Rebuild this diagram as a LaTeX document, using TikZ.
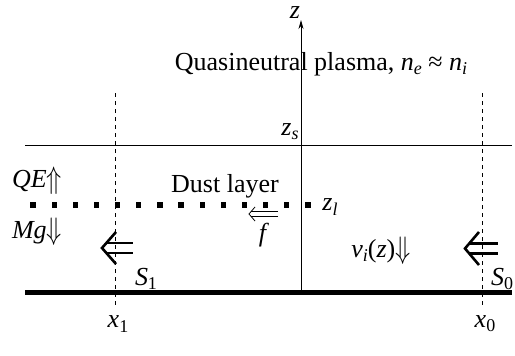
\documentclass[tikz,border=0pt]{standalone}
\usepackage{fontspec}
\setmainfont{Liberation Serif}
\usetikzlibrary{arrows.meta}
\newcommand{\sbs}[1]{\raisebox{-0.35ex}{\fontsize{18}{19}\selectfont #1}}
\newcommand{\tallup}{\raisebox{-0.12ex}{\scalebox{1}[1.25]{$\Uparrow$}}}
\newcommand{\talldown}{\raisebox{-0.12ex}{\scalebox{1}[1.25]{$\Downarrow$}}}
\begin{document}
\begin{tikzpicture}[x=1pt,y=-1pt,
  lbl/.style={font=\fontsize{26}{28}\selectfont, inner sep=0pt},
  bigarrow/.style={line width=2.6pt, line cap=butt, line join=miter},
  smallarrow/.style={line width=0.8pt, line cap=butt, line join=miter},
  guide/.style={dashed, dash pattern=on 4pt off 4pt, line width=0.6pt}]
\useasboundingbox (0,0) rectangle (515,356);
% ground
\coordinate (gl) at (25,292);
\coordinate (gr) at (512,292);
\draw[line width=5pt] (gl) -- (gr);
% sheath edge
\coordinate (sl) at (25,145);
\coordinate (sr) at (512,145);
\draw[line width=0.8pt] (sl) -- (sr);
% axis
\coordinate (ab) at (301,292);
\coordinate (at) at (301,20);
\draw[line width=0.8pt, -{Stealth[length=9pt,width=5pt]}] (ab) -- (at);
\node[lbl] (zlab) at (295,13) {\textit{z}};
\node[lbl] (zs) at (290,132) {\textit{z}\sbs{\textit{s}}};
% plasma text
\node[lbl, fill=white, inner xsep=1pt] (plasma) at (321,64) {Quasineutral plasma, \textit{n}\sbs{\textit{e}} ≈ \textit{n}\sbs{\textit{i}}};
\draw[line width=0.8pt] (301,48) -- (301,82);
% guides
\coordinate (g1t) at (115,93);
\coordinate (g1b) at (115,306);
\coordinate (g0t) at (482,93);
\coordinate (g0b) at (482,306);
\draw[guide] (g1t) -- (g1b);
\draw[guide] (g0t) -- (g0b);
\node[lbl] (x1) at (118,324) {\textit{x}\sbs{1}};
\node[lbl] (x0) at (485,324) {\textit{x}\sbs{0}};
% dust layer
\foreach \i in {0,...,13} {
  \fill (33+21.15*\i-2.6,205-2.6) rectangle ++(5.2,5.2);
}
\node[lbl] (zl) at (330,207) {\textit{z}\sbs{\textit{l}}};
\node[lbl] (dust) at (225,186) {Dust layer};
% small force arrow
\coordinate (ft) at (249,214);
\draw[smallarrow] (278,211.5) -- (251,211.5);
\draw[smallarrow] (278,216.5) -- (251,216.5);
\draw[smallarrow] (255,207) -- (ft) -- (255,221);
\node[lbl] (f) at (264,235) {\textit{f}};
% forces
\node[lbl] (qe) at (37,181) {\textit{QE}\tallup};
\node[lbl] (mg) at (37,232) {\textit{Mg}\talldown};
% big arrows
\draw[bigarrow] (116,232) -- (102,248) -- (116,264);
\draw[bigarrow] (107,243) -- (133,243);
\draw[bigarrow] (107,253) -- (133,253);
\draw[bigarrow] (479,232) -- (465,248.5) -- (479,265);
\draw[bigarrow] (470,243.5) -- (498,243.5);
\draw[bigarrow] (470,253.5) -- (498,253.5);
\node[lbl] (s1) at (146,279) {\textit{S}\sbs{1}};
\node[lbl] (s0) at (502,279) {\textit{S}\sbs{0}};
\node[lbl] (vi) at (381,251) {\textit{v}\sbs{\textit{i}}(\textit{z})\talldown};
\end{tikzpicture}
\end{document}
